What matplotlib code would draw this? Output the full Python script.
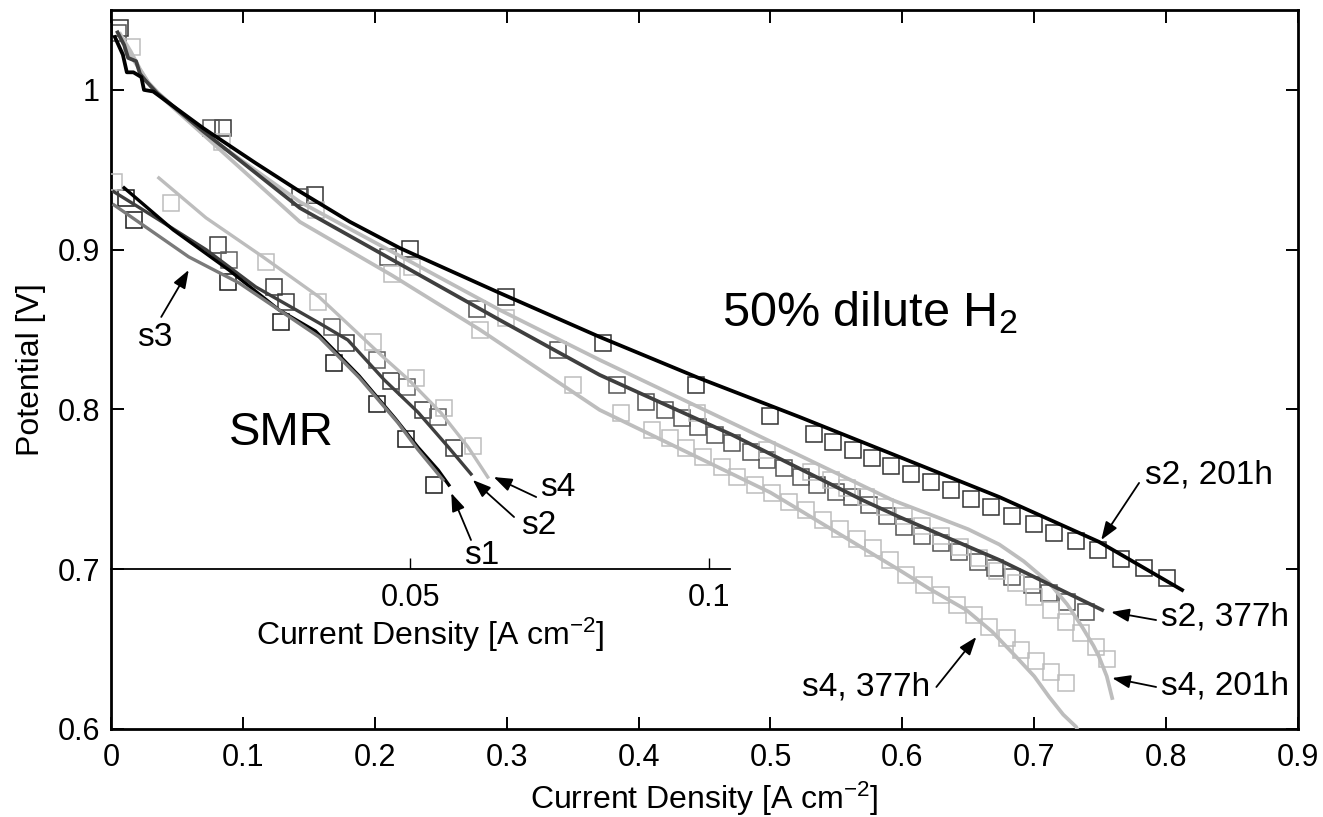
import matplotlib
matplotlib.use('Agg')
import matplotlib.pyplot as plt

plt.rcParams['font.family'] = ['Liberation Sans', 'DejaVu Sans']
plt.rcParams['mathtext.fontset'] = 'custom'
plt.rcParams['mathtext.rm'] = 'Liberation Sans'
plt.rcParams['mathtext.it'] = 'Liberation Sans:italic'
plt.rcParams['mathtext.bf'] = 'Liberation Sans:bold'

# ---------------- main plot: 50% dilute H2 ----------------
x_ticks = [0, 0.1, 0.2, 0.3, 0.4, 0.5, 0.6, 0.7, 0.8, 0.9]
x_tick_labels = ['0', '0.1', '0.2', '0.3', '0.4', '0.5', '0.6', '0.7', '0.8', '0.9']
y_ticks = [0.6, 0.7, 0.8, 0.9, 1.0]
y_tick_labels = ['0.6', '0.7', '0.8', '0.9', '1']

# model lines
s2_201h_x = [0.003, 0.009, 0.012, 0.017, 0.023, 0.025, 0.032, 0.070, 0.110, 0.143, 0.181,
             0.219, 0.2947, 0.3705, 0.4462, 0.522, 0.5977, 0.6735, 0.7492, 0.8121]
s2_201h_y = [1.033, 1.022, 1.011, 1.011, 1.008, 1.000, 0.999, 0.976, 0.954, 0.9365, 0.9175,
             0.9010, 0.8729, 0.8454, 0.8195, 0.7953, 0.7703, 0.7452, 0.7171, 0.6870]
s2_377h_x = [0.005, 0.010, 0.013, 0.019, 0.022, 0.026, 0.035, 0.070, 0.1432, 0.2947, 0.3705,
             0.4712, 0.5697, 0.5977, 0.6735, 0.7515]
s2_377h_y = [1.036, 1.028, 1.020, 1.018, 1.010, 1.006, 0.998, 0.974, 0.9261, 0.856, 0.8216,
             0.784, 0.7433, 0.7327, 0.7058, 0.6745]
s4_201h_x = [0.007, 0.015, 0.022, 0.028, 0.036, 0.070, 0.1432, 0.2947, 0.3705, 0.4818,
             0.5924, 0.625, 0.650, 0.6735, 0.692, 0.7114, 0.725, 0.7364, 0.745, 0.7492,
             0.755, 0.7591]
s4_201h_y = [1.035, 1.024, 1.013, 1.005, 0.998, 0.973, 0.9299, 0.8623, 0.831, 0.7872,
             0.7433, 0.7330, 0.7250, 0.7155, 0.7050, 0.6914, 0.6780, 0.6638, 0.6520, 0.6451,
             0.6330, 0.6194]
s4_377h_x = [0.008, 0.016, 0.024, 0.032, 0.070, 0.1432, 0.2129, 0.2795, 0.3705, 0.500,
             0.5977, 0.620, 0.6485, 0.668, 0.6864, 0.700, 0.7114, 0.722, 0.7318, 0.745]
s4_377h_y = [1.032, 1.020, 1.010, 1.000, 0.972, 0.9174, 0.884, 0.850, 0.7997, 0.748,
             0.6995, 0.6880, 0.6745, 0.6610, 0.6451, 0.6330, 0.6200, 0.6090, 0.6013, 0.575]

# measured points
s2_201h_mx = [0.0068, 0.0848, 0.1545, 0.2265, 0.2992, 0.3727, 0.4439, 0.5000, 0.5333, 0.5477,
              0.5629, 0.5773, 0.5917, 0.6068, 0.6220, 0.6371, 0.6523, 0.6674, 0.6833, 0.7000,
              0.7152, 0.7318, 0.7485, 0.7659, 0.7833, 0.8008]
s2_201h_my = [1.0388, 0.9762, 0.9343, 0.9005, 0.8704, 0.8416, 0.8153, 0.7959, 0.7847, 0.7797,
              0.7746, 0.7696, 0.7646, 0.7596, 0.7546, 0.7496, 0.7440, 0.7390, 0.7333, 0.7283,
              0.7227, 0.7177, 0.7121, 0.7064, 0.7008, 0.6945]
s2_377h_mx = [0.0053, 0.0758, 0.1432, 0.2098, 0.2773, 0.3386, 0.3833, 0.4060, 0.4197, 0.4326,
              0.4447, 0.4576, 0.4712, 0.4856, 0.4977, 0.5106, 0.5235, 0.5356, 0.5500, 0.5621,
              0.5750, 0.5880, 0.6015, 0.6150, 0.6295, 0.6430, 0.6570, 0.6700, 0.6830, 0.6980,
              0.7110, 0.7250, 0.7390]
s2_377h_my = [1.0357, 0.9762, 0.9330, 0.8955, 0.8629, 0.8372, 0.8153, 0.8047, 0.7997, 0.7947,
              0.7890, 0.7840, 0.7790, 0.7734, 0.7684, 0.7634, 0.7577, 0.7527, 0.7484, 0.7452,
              0.7400, 0.7330, 0.7265, 0.7208, 0.7164, 0.7108, 0.7045, 0.7008, 0.6952, 0.6901,
              0.6851, 0.6795, 0.6732]
s4_201h_mx = [0.0159, 0.0841, 0.1553, 0.2280, 0.2992, 0.4440, 0.4977, 0.5310, 0.5460, 0.5580,
              0.5727, 0.5870, 0.6010, 0.6150, 0.6290, 0.6440, 0.6580, 0.6720, 0.6864, 0.7000,
              0.7130, 0.7242, 0.7356, 0.7470, 0.7553]
s4_201h_my = [1.0269, 0.9674, 0.9249, 0.8892, 0.8573, 0.7980, 0.7746, 0.7610, 0.7559, 0.7509,
              0.7452, 0.7390, 0.7330, 0.7270, 0.7210, 0.7140, 0.7070, 0.6990, 0.6914, 0.6826,
              0.6745, 0.6670, 0.6600, 0.6513, 0.6438]
s4_377h_mx = [0.2129, 0.2795, 0.3500, 0.3870, 0.4100, 0.4235, 0.4360, 0.4485, 0.4630, 0.4750,
              0.4880, 0.5010, 0.5140, 0.5270, 0.5400, 0.5530, 0.5660, 0.5780, 0.5910, 0.6030,
              0.6167, 0.6295, 0.6417, 0.6545, 0.6660, 0.6790, 0.6900, 0.7015, 0.7130, 0.7240]
s4_377h_my = [0.8848, 0.8498, 0.8150, 0.7980, 0.7870, 0.7820, 0.7760, 0.7700, 0.7640, 0.7580,
              0.7530, 0.7480, 0.7420, 0.7370, 0.7310, 0.7250, 0.7190, 0.7130, 0.7060, 0.6964,
              0.6900, 0.6839, 0.6776, 0.6714, 0.6638, 0.6570, 0.6495, 0.6426, 0.6357, 0.6288]

# ---------------- inset: SMR ----------------
smr_ticks = [0.05, 0.1]
smr_tick_labels = ['0.05', '0.1']
smr_s1_x = [0.0022, 0.0104, 0.0197, 0.0281, 0.0342, 0.0415, 0.0476, 0.0513, 0.0547, 0.0565]
smr_s1_y = [0.9387, 0.9124, 0.8873, 0.8623, 0.8490, 0.8210, 0.7940, 0.7765, 0.7621, 0.7527]
smr_s2_x = [0.0005, 0.0075, 0.0159, 0.0242, 0.0348, 0.0396, 0.0457, 0.0513, 0.0564, 0.0602]
smr_s2_y = [0.9362, 0.9199, 0.9000, 0.8767, 0.8541, 0.8435, 0.8185, 0.7984, 0.7765, 0.7596]
smr_s3_x = [0.0005, 0.0130, 0.0214, 0.0348, 0.0415, 0.0480, 0.0513, 0.0555]
smr_s3_y = [0.9280, 0.8955, 0.8792, 0.8454, 0.8200, 0.7916, 0.7750, 0.7560]
smr_s4_x = [0.0080, 0.0159, 0.0254, 0.0348, 0.0455, 0.0498, 0.0552, 0.0597, 0.0630]
smr_s4_y = [0.9449, 0.9199, 0.8955, 0.8704, 0.8329, 0.8185, 0.7978, 0.7765, 0.7577]

smr_s1_mx = [0.0025, 0.0038, 0.0196, 0.0284, 0.0373, 0.0445, 0.0493, 0.0540]
smr_s1_my = [0.9324, 0.9186, 0.8798, 0.8548, 0.8291, 0.8034, 0.7815, 0.7527]
smr_s2_mx = [0.0179, 0.0273, 0.0293, 0.0393, 0.0468, 0.0522, 0.0574]
smr_s2_my = [0.9030, 0.8767, 0.8673, 0.8416, 0.8178, 0.7997, 0.7759]
smr_s3_mx = [0.0197, 0.0370, 0.0445, 0.0495, 0.0547]
smr_s3_my = [0.8936, 0.8516, 0.8310, 0.8141, 0.7953]
smr_s4_mx = [0.0005, 0.0100, 0.0259, 0.0346, 0.0438, 0.0510, 0.0557, 0.0605]
smr_s4_my = [0.9424, 0.9293, 0.8923, 0.8673, 0.8423, 0.8197, 0.8009, 0.7772]

BLACK = '#000000'
DARK = '#3f3f3f'
MID = '#7a7a7a'
LIGHT = '#bdbdbd'

W, H = 1323, 817
fig = plt.figure(figsize=(W / 100, H / 100), dpi=100)
ax = fig.add_axes([111 / W, (H - 729) / H, (1298 - 111) / W, (729 - 10) / H])
ax.set_xlim(0, 0.9)
ax.set_ylim(0.6, 1.05)

msz = 11
mew = 1.1
ax.plot(s2_201h_mx, s2_201h_my, 's', ms=msz, mfc='none', mec='#333333', mew=mew, zorder=2)
ax.plot(s2_377h_mx, s2_377h_my, 's', ms=msz, mfc='none', mec='#555555', mew=mew, zorder=2)
ax.plot(s4_201h_mx, s4_201h_my, 's', ms=msz, mfc='none', mec=LIGHT, mew=mew, zorder=2)
ax.plot(s4_377h_mx, s4_377h_my, 's', ms=msz, mfc='none', mec=LIGHT, mew=mew, zorder=2)

lw = 2.7
ax.plot(s4_377h_x, s4_377h_y, color=LIGHT, lw=lw, zorder=3)
ax.plot(s4_201h_x, s4_201h_y, color=LIGHT, lw=lw, zorder=3)
ax.plot(s2_377h_x, s2_377h_y, color=DARK, lw=lw, zorder=4)
ax.plot(s2_201h_x, s2_201h_y, color=BLACK, lw=lw, zorder=5)

ax.set_xticks(x_ticks)
ax.set_xticklabels(x_tick_labels)
ax.set_yticks(y_ticks)
ax.set_yticklabels(y_tick_labels)
ax.tick_params(direction='in', length=9, width=1.4, top=True, right=True,
               labelsize=22, pad=8)
ax.tick_params(axis='x', pad=10)
for sp in ax.spines.values():
    sp.set_linewidth(2.0)
ax.set_xlabel('Current Density [A cm$^{-2}$]', fontsize=23)
ax.xaxis.set_label_coords(0.5, -0.071)
ax.set_ylabel('Potential [V]', fontsize=23)
ax.yaxis.set_label_coords(-0.055, 0.5)

ax.text(0.4636, 0.8604, '50% dilute H$_2$', fontsize=35, ha='left', va='center')

arrow_kw = dict(arrowstyle='-|>,head_length=0.55,head_width=0.2', color='black', lw=1.3,
                shrinkA=0, shrinkB=0, mutation_scale=20)
main_notes = [
    ('s2, 201h', (0.8326, 0.7590), (0.7795, 0.7540), (0.7508, 0.7183)),
    ('s2, 377h', (0.8447, 0.6701), (0.7924, 0.6682), (0.7583, 0.6732)),
    ('s4, 201h', (0.8447, 0.6269), (0.7924, 0.6263), (0.7591, 0.6319)),
    ('s4, 377h', (0.5727, 0.6263), (0.6258, 0.6263), (0.6561, 0.6576)),
]
for txt, tpos, tail, head in main_notes:
    ax.text(tpos[0], tpos[1], txt, fontsize=24, ha='center', va='center', zorder=6)
    ax.annotate('', xy=head, xytext=tail, arrowprops=arrow_kw, zorder=6)

# ---------------- inset ----------------
inset_bottom = 729 - 0.1 * 1597.5
ax2 = fig.add_axes([111 / W, (H - inset_bottom) / H, (730 - 111) / W, (inset_bottom - 10) / H])
ax2.patch.set_alpha(0)
ax2.set_xlim(0, (730 - 111) / 5980)
ax2.set_ylim(0.7, 1.05)
for name in ('left', 'right', 'top'):
    ax2.spines[name].set_visible(False)
ax2.spines['bottom'].set_linewidth(1.3)
ax2.set_yticks([])
ax2.set_xticks(smr_ticks)
ax2.set_xticklabels(smr_tick_labels)
ax2.tick_params(axis='x', direction='in', length=8, width=1.0, labelsize=22, pad=10)
ax2.set_xlabel('Current Density [A cm$^{-2}$]', fontsize=23)
ax2.xaxis.set_label_coords(0.515, -0.083)

ax2.plot(smr_s1_mx, smr_s1_my, 's', ms=msz, mfc='none', mec='#1a1a1a', mew=mew, zorder=2)
ax2.plot(smr_s2_mx, smr_s2_my, 's', ms=msz, mfc='none', mec='#3a3a3a', mew=mew, zorder=2)
ax2.plot(smr_s3_mx, smr_s3_my, 's', ms=msz, mfc='none', mec='#606060', mew=mew, zorder=2)
ax2.plot(smr_s4_mx, smr_s4_my, 's', ms=msz, mfc='none', mec=LIGHT, mew=mew, zorder=2)

slw = 2.4
ax2.plot(smr_s4_x, smr_s4_y, color=LIGHT, lw=slw, zorder=3)
ax2.plot(smr_s2_x, smr_s2_y, color=DARK, lw=slw, zorder=4)
ax2.plot(smr_s1_x, smr_s1_y, color=BLACK, lw=slw, zorder=5)
ax2.plot(smr_s3_x, smr_s3_y, color=MID, lw=slw, zorder=6)

ax2.text(0.0197, 0.7853, 'SMR', fontsize=34, ha='left', va='center')
smr_notes = [
    ('s3', (0.0074, 0.8448), (0.0084, 0.8579), (0.0130, 0.8873)),
    ('s1', (0.0620, 0.7089), (0.0602, 0.7183), (0.0569, 0.7477)),
    ('s2', (0.0716, 0.7271), (0.0674, 0.7327), (0.0605, 0.7559)),
    ('s4', (0.0747, 0.7509), (0.0711, 0.7452), (0.0640, 0.7577)),
]
for txt, tpos, tail, head in smr_notes:
    ax2.text(tpos[0], tpos[1], txt, fontsize=24, ha='center', va='center', zorder=7)
    ax2.annotate('', xy=head, xytext=tail, arrowprops=arrow_kw, zorder=7)

fig.savefig('out.png', dpi=100)
